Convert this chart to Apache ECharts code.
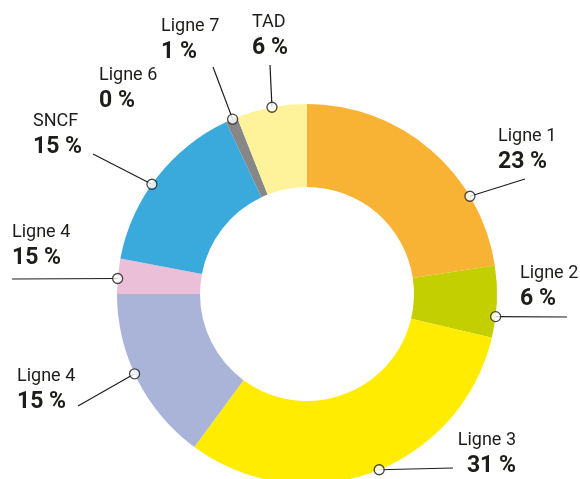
<!DOCTYPE html>
<html>
<head>
<meta charset="utf-8">
<script src="https://cdn.jsdelivr.net/npm/echarts@6/dist/echarts.min.js"></script>
<style>
  html, body { margin: 0; padding: 0; background: #fff; }
  #main { width: 580px; height: 479px; }
</style>
</head>
<body>
<div id="main"></div>
<script>
// slices, clockwise from 12 o'clock
const names = ['Ligne 1', 'Ligne 2', 'Ligne 3', 'Ligne 4', 'Ligne 4', 'SNCF', 'Ligne 6', 'Ligne 7', 'TAD'];
const shares = [22.6, 6.1, 31.4, 14.9, 3.0, 15.0, 0, 1.0, 6.0];
// percentages as printed on the chart
const shownPct = [23, 6, 31, 15, 15, 15, 0, 1, 6];

const colors = ['#F8B334', '#C3CF00', '#FFEC00', '#AAB3D8', '#EBBFD7', '#3AA9DC', '#878787', '#878787', '#FEF39B'];

// where the little circle sits on the ring (percent of the turn), null = no pointer
const markerAt = [16.4, 26.9, 43.8, 68.1, 76.3, 84.8, null, 93.6, 97.05];
// label block: left/right x, top y, align
const labelBox = [
  [498, 124, 'left'],
  [520, 261, 'left'],
  [516, 428, 'right'],
  [17, 364, 'left'],
  [12, 220, 'left'],
  [33, 109, 'left'],
  [99, 63, 'left'],
  [161, 14, 'left'],
  [252, 10, 'left']
];
// where each pointer line stops
const lineEnd = [
  [525, 179], [567, 317], [453, 468], [78, 406], [12, 279],
  [93, 154], null, [213, 67], [270, 65]
];

const CX = 307, CY = 294, R_OUT = 190, R_IN = 107;

const chart = echarts.init(document.getElementById('main'));

function anchorPx(i) {
  const a = markerAt[i] / 100 * Math.PI * 2;
  return [CX + R_OUT * Math.sin(a), CY - R_OUT * Math.cos(a)];
}

const pieData = names.map((n, i) => ({
  name: n,
  value: shares[i],
  pct: shownPct[i],
  itemStyle: { color: colors[i] },
  labelLine: { show: markerAt[i] != null }
}));

const markerData = [];
markerAt.forEach((a) => {
  if (a != null) markerData.push([1, a]);
});

chart.setOption({
  animation: false,
  polar: { center: [CX, CY], radius: R_OUT },
  angleAxis: { type: 'value', min: 0, max: 100, startAngle: 90, clockwise: true, show: false },
  radiusAxis: { type: 'value', min: 0, max: 1, show: false },
  series: [
    {
      type: 'pie',
      center: [CX, CY],
      radius: [R_IN, R_OUT],
      startAngle: 90,
      clockwise: true,
      avoidLabelOverlap: false,
      silent: true,
      data: pieData,
      label: {
        show: true,
        formatter: (p) => '{n|' + p.name + '}\n{v|' + p.data.pct + ' %}',
        rich: {
          n: { fontFamily: 'Roboto', fontSize: 18, lineHeight: 24, color: '#1d1d1b' },
          v: { fontFamily: 'Roboto', fontSize: 23, fontWeight: 'bold', lineHeight: 28, color: '#1d1d1b' }
        }
      },
      labelLine: {
        show: true,
        length: 10,
        length2: 10,
        lineStyle: { color: '#1d1d1b', width: 1.2 }
      },
      labelLayout: function (p) {
        const i = p.dataIndex;
        const box = labelBox[i];
        const out = { x: box[0], y: box[1], align: box[2], verticalAlign: 'top' };
        if (markerAt[i] != null) {
          const s = anchorPx(i);
          out.labelLinePoints = [s, lineEnd[i], lineEnd[i]];
        }
        return out;
      }
    },
    {
      type: 'scatter',
      coordinateSystem: 'polar',
      data: markerData,
      symbol: 'circle',
      symbolSize: 10,
      clip: false,
      silent: true,
      z: 5,
      itemStyle: { color: '#fff', borderColor: '#1d1d1b', borderWidth: 1.3 }
    }
  ]
});
</script>
</body>
</html>
